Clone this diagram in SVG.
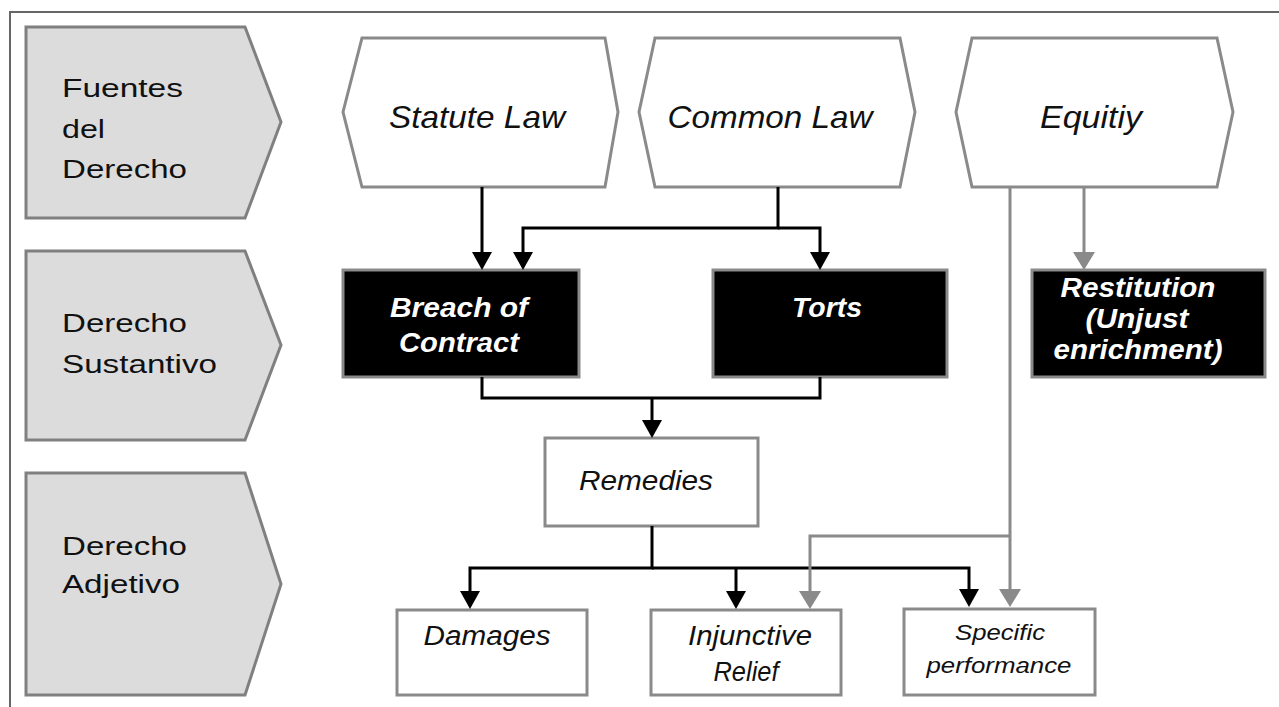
<svg xmlns="http://www.w3.org/2000/svg" width="1279" height="707" viewBox="0 0 1279 707">
<style>
text{font-family:"Liberation Sans",Arial,sans-serif}
.lbl{font-size:26px;fill:#111}
.hx{font-size:32px;font-style:italic;fill:#111;text-anchor:middle}
.bk{font-size:27px;font-style:italic;font-weight:bold;fill:#fff;text-anchor:middle}
.wt{font-size:27px;font-style:italic;fill:#111;text-anchor:middle}
.sm{font-size:22px;font-style:italic;fill:#111;text-anchor:middle}
.pent{fill:#dcdcdc;stroke:#808080;stroke-width:3}
.hex{fill:#fff;stroke:#8a8a8a;stroke-width:3}
.blk{fill:#000;stroke:#8a8a8a;stroke-width:3}
.box{fill:#fff;stroke:#8a8a8a;stroke-width:3}
.cb{fill:none;stroke:#000;stroke-width:3}
.cg{fill:none;stroke:#8a8a8a;stroke-width:3}
</style>
<defs>
<marker id="ab" markerUnits="userSpaceOnUse" markerWidth="20" markerHeight="20" viewBox="0 0 18 20" refX="14" refY="10" orient="auto"><path d="M0,0 L18,10 L0,20 z" fill="#000"/></marker>
<marker id="ag" markerUnits="userSpaceOnUse" markerWidth="20" markerHeight="22" viewBox="0 0 18 22" refX="14" refY="11" orient="auto"><path d="M0,0 L18,11 L0,22 z" fill="#8a8a8a"/></marker>
</defs>
<rect width="1279" height="707" fill="#fff"/>
<path d="M10,707 V12 H1279" fill="none" stroke="#666" stroke-width="2"/>

<g id="fuentes">
<polygon class="pent" points="26,27 245,27 281,122 245,218 26,218"/>
<text class="lbl" x="62" y="97" textLength="121" lengthAdjust="spacingAndGlyphs">Fuentes</text>
<text class="lbl" x="62" y="138" textLength="43" lengthAdjust="spacingAndGlyphs">del</text>
<text class="lbl" x="62" y="178" textLength="125" lengthAdjust="spacingAndGlyphs">Derecho</text>
</g>
<g id="sustantivo">
<polygon class="pent" points="26,251 245,251 281,345 245,440 26,440"/>
<text class="lbl" x="62" y="332" textLength="125" lengthAdjust="spacingAndGlyphs">Derecho</text>
<text class="lbl" x="62" y="373" textLength="155" lengthAdjust="spacingAndGlyphs">Sustantivo</text>
</g>
<g id="adjetivo">
<polygon class="pent" points="26,473 245,473 281,584 245,695 26,695"/>
<text class="lbl" x="62" y="555" textLength="125" lengthAdjust="spacingAndGlyphs">Derecho</text>
<text class="lbl" x="62" y="593" textLength="118" lengthAdjust="spacingAndGlyphs">Adjetivo</text>
</g>

<g id="statute">
<polygon class="hex" points="343,112 362,38 605,38 618,112 605,187 362,187"/>
<text class="hx" x="477" y="128" textLength="176" lengthAdjust="spacingAndGlyphs">Statute Law</text>
</g>
<g id="common">
<polygon class="hex" points="639,112 655,38 900,38 915,112 900,187 655,187"/>
<text class="hx" x="770" y="128" textLength="205" lengthAdjust="spacingAndGlyphs">Common Law</text>
</g>
<g id="equity">
<polygon class="hex" points="956,112 972,38 1217,38 1233,112 1217,187 972,187"/>
<text class="hx" x="1091" y="128" textLength="102" lengthAdjust="spacingAndGlyphs">Equitiy</text>
</g>

<g id="breach">
<rect class="blk" x="343" y="270" width="236" height="107"/>
<text class="bk" x="459" y="317" textLength="138" lengthAdjust="spacingAndGlyphs">Breach of</text>
<text class="bk" x="459" y="352" textLength="120" lengthAdjust="spacingAndGlyphs">Contract</text>
</g>
<g id="torts">
<rect class="blk" x="713" y="270" width="234" height="107"/>
<text class="bk" x="827" y="317" textLength="70" lengthAdjust="spacingAndGlyphs">Torts</text>
</g>
<g id="restitution">
<rect class="blk" x="1032" y="270" width="233" height="107"/>
<text class="bk" x="1138" y="297" textLength="155" lengthAdjust="spacingAndGlyphs">Restitution</text>
<text class="bk" x="1137" y="328" textLength="103" lengthAdjust="spacingAndGlyphs">(Unjust</text>
<text class="bk" x="1138" y="359" textLength="169" lengthAdjust="spacingAndGlyphs">enrichment)</text>
</g>

<g id="remedies">
<rect class="box" x="545" y="438" width="213" height="88"/>
<text class="wt" x="646" y="490" textLength="134" lengthAdjust="spacingAndGlyphs">Remedies</text>
</g>
<g id="damages">
<rect class="box" x="397" y="610" width="190" height="85"/>
<text class="wt" x="487" y="645" textLength="127" lengthAdjust="spacingAndGlyphs">Damages</text>
</g>
<g id="injunctive">
<rect class="box" x="651" y="610" width="190" height="85"/>
<text class="wt" x="750" y="645" textLength="124" lengthAdjust="spacingAndGlyphs">Injunctive</text>
<text class="wt" x="746" y="681" textLength="65" lengthAdjust="spacingAndGlyphs">Relief</text>
</g>
<g id="specific">
<rect class="box" x="904" y="609" width="191" height="86"/>
<text class="sm" x="1000" y="640" textLength="90" lengthAdjust="spacingAndGlyphs">Specific</text>
<text class="sm" x="999" y="673" textLength="145" lengthAdjust="spacingAndGlyphs">performance</text>
</g>

<g id="connectors">
<path class="cb" d="M482,187 V266" marker-end="url(#ab)"/>
<path class="cb" d="M778,187 V228 H523 V266" marker-end="url(#ab)"/>
<path class="cb" d="M778,228 H820 V266" marker-end="url(#ab)"/>
<path class="cb" d="M482,377 V398 H820 V377"/>
<path class="cb" d="M652,398 V434" marker-end="url(#ab)"/>
<path class="cb" d="M652,526 V568 H470 V605" marker-end="url(#ab)"/>
<path class="cb" d="M652,568 H969 V603" marker-end="url(#ab)"/>
<path class="cb" d="M736,568 V605" marker-end="url(#ab)"/>
<path class="cg" d="M1084,187 V266" marker-end="url(#ag)"/>
<path class="cg" d="M1010,187 V603" marker-end="url(#ag)"/>
<path class="cg" d="M1010,536 H810 V605" marker-end="url(#ag)"/>
</g>
</svg>
